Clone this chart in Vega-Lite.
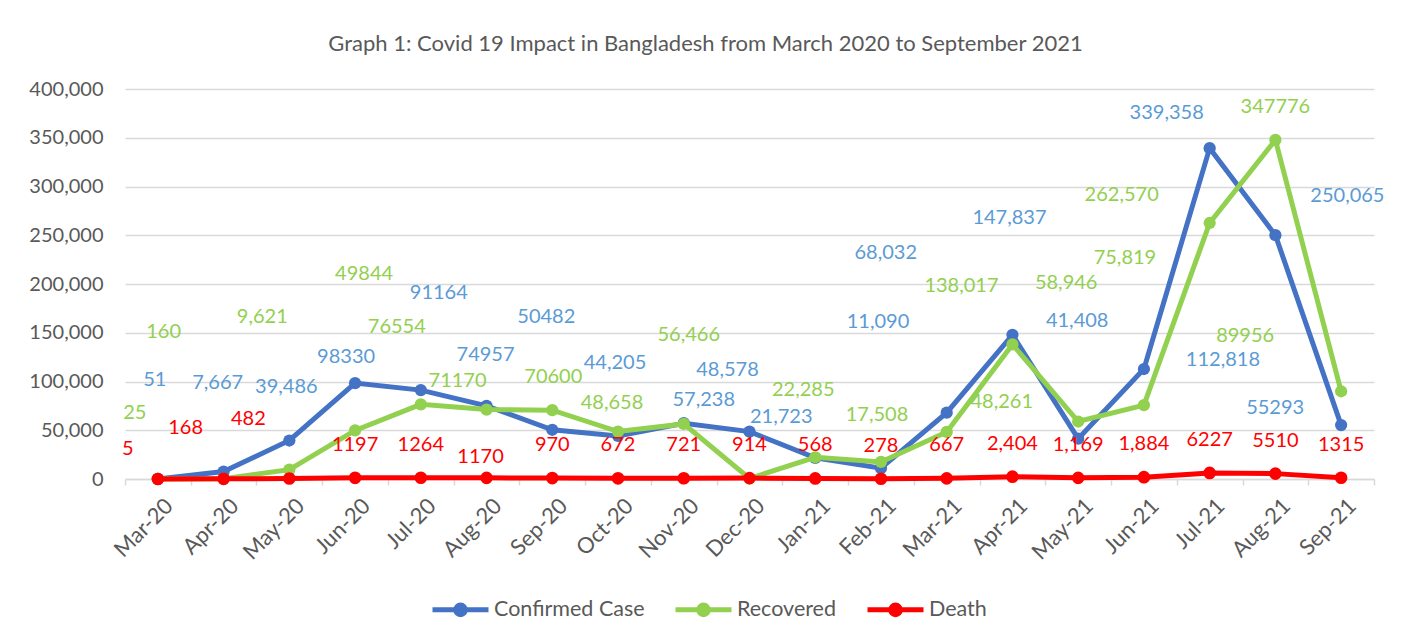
{
  "$schema": "https://vega.github.io/schema/vega-lite/v6.json",
  "width": 1249,
  "height": 390,
  "autosize": {"type": "none"},
  "padding": {"left": 125, "top": 89, "right": 33, "bottom": 162},
  "background": "white",
  "config": {"view": {"stroke": null}, "font": "Lato"},
  "title": {
    "text": "Graph 1: Covid 19 Impact in Bangladesh from March 2020 to September 2021",
    "font": "Lato", "fontSize": 22, "fontWeight": "normal", "color": "#595959",
    "anchor": "middle", "dx": -44, "offset": 23
  },
  "data": {"values": [
    {"m":"Mar-20","s":"Confirmed Case","v":51,"t":"51"},
    {"m":"Apr-20","s":"Confirmed Case","v":7667,"t":"7,667"},
    {"m":"May-20","s":"Confirmed Case","v":39486,"t":"39,486"},
    {"m":"Jun-20","s":"Confirmed Case","v":98330,"t":"98330"},
    {"m":"Jul-20","s":"Confirmed Case","v":91164,"t":"91164"},
    {"m":"Aug-20","s":"Confirmed Case","v":74957,"t":"74957"},
    {"m":"Sep-20","s":"Confirmed Case","v":50482,"t":"50482"},
    {"m":"Oct-20","s":"Confirmed Case","v":44205,"t":"44,205"},
    {"m":"Nov-20","s":"Confirmed Case","v":57238,"t":"57,238"},
    {"m":"Dec-20","s":"Confirmed Case","v":48578,"t":"48,578"},
    {"m":"Jan-21","s":"Confirmed Case","v":21723,"t":"21,723"},
    {"m":"Feb-21","s":"Confirmed Case","v":11090,"t":"11,090"},
    {"m":"Mar-21","s":"Confirmed Case","v":68032,"t":"68,032"},
    {"m":"Apr-21","s":"Confirmed Case","v":147837,"t":"147,837"},
    {"m":"May-21","s":"Confirmed Case","v":41408,"t":"41,408"},
    {"m":"Jun-21","s":"Confirmed Case","v":112818,"t":"112,818"},
    {"m":"Jul-21","s":"Confirmed Case","v":339358,"t":"339,358"},
    {"m":"Aug-21","s":"Confirmed Case","v":250065,"t":"250,065"},
    {"m":"Sep-21","s":"Confirmed Case","v":55293,"t":"55293"},
    {"m":"Mar-20","s":"Recovered","v":25,"t":"25"},
    {"m":"Apr-20","s":"Recovered","v":160,"t":"160"},
    {"m":"May-20","s":"Recovered","v":9621,"t":"9,621"},
    {"m":"Jun-20","s":"Recovered","v":49844,"t":"49844"},
    {"m":"Jul-20","s":"Recovered","v":76554,"t":"76554"},
    {"m":"Aug-20","s":"Recovered","v":71170,"t":"71170"},
    {"m":"Sep-20","s":"Recovered","v":70600,"t":"70600"},
    {"m":"Oct-20","s":"Recovered","v":48658,"t":"48,658"},
    {"m":"Nov-20","s":"Recovered","v":56466,"t":"56,466"},
    {"m":"Dec-20","s":"Recovered","v":500,"t":""},
    {"m":"Jan-21","s":"Recovered","v":22285,"t":"22,285"},
    {"m":"Feb-21","s":"Recovered","v":17508,"t":"17,508"},
    {"m":"Mar-21","s":"Recovered","v":48261,"t":"48,261"},
    {"m":"Apr-21","s":"Recovered","v":138017,"t":"138,017"},
    {"m":"May-21","s":"Recovered","v":58946,"t":"58,946"},
    {"m":"Jun-21","s":"Recovered","v":75819,"t":"75,819"},
    {"m":"Jul-21","s":"Recovered","v":262570,"t":"262,570"},
    {"m":"Aug-21","s":"Recovered","v":347776,"t":"347776"},
    {"m":"Sep-21","s":"Recovered","v":89956,"t":"89956"},
    {"m":"Mar-20","s":"Death","v":5,"t":"5"},
    {"m":"Apr-20","s":"Death","v":168,"t":"168"},
    {"m":"May-20","s":"Death","v":482,"t":"482"},
    {"m":"Jun-20","s":"Death","v":1197,"t":"1197"},
    {"m":"Jul-20","s":"Death","v":1264,"t":"1264"},
    {"m":"Aug-20","s":"Death","v":1170,"t":"1170"},
    {"m":"Sep-20","s":"Death","v":970,"t":"970"},
    {"m":"Oct-20","s":"Death","v":672,"t":"672"},
    {"m":"Nov-20","s":"Death","v":721,"t":"721"},
    {"m":"Dec-20","s":"Death","v":914,"t":"914"},
    {"m":"Jan-21","s":"Death","v":568,"t":"568"},
    {"m":"Feb-21","s":"Death","v":278,"t":"278"},
    {"m":"Mar-21","s":"Death","v":667,"t":"667"},
    {"m":"Apr-21","s":"Death","v":2404,"t":"2,404"},
    {"m":"May-21","s":"Death","v":1169,"t":"1,169"},
    {"m":"Jun-21","s":"Death","v":1884,"t":"1,884"},
    {"m":"Jul-21","s":"Death","v":6227,"t":"6227"},
    {"m":"Aug-21","s":"Death","v":5510,"t":"5510"},
    {"m":"Sep-21","s":"Death","v":1315,"t":"1315"}
  ]},
  "encoding": {
    "x": {
      "field": "m", "type": "ordinal", "title": null,
      "scale": {"type": "band", "paddingInner": 0, "paddingOuter": 0,
        "domain": ["Mar-20","Apr-20","May-20","Jun-20","Jul-20","Aug-20","Sep-20","Oct-20","Nov-20","Dec-20","Jan-21","Feb-21","Mar-21","Apr-21","May-21","Jun-21","Jul-21","Aug-21","Sep-21"]},
      "axis": {
        "labelAngle": -45, "labelAlign": "right", "labelBaseline": "middle",
        "labelFont": "Lato", "labelFontSize": 22, "labelColor": "#595959",
        "labelPadding": 17, "labelOffset": 11,
        "domainColor": "#D9D9D9", "domainWidth": 1.5,
        "tickColor": "#D9D9D9", "tickSize": 6, "tickWidth": 1.5, "tickBand": "extent",
        "grid": false
      }
    },
    "y": {
      "field": "v", "type": "quantitative", "title": null,
      "scale": {"domain": [0, 400000], "nice": false},
      "axis": {
        "values": [0,50000,100000,150000,200000,250000,300000,350000,400000],
        "format": ",d", "labelFont": "Lato", "labelFontSize": 20, "labelColor": "#595959",
        "labelPadding": 22, "domain": false, "ticks": false,
        "gridColor": "#D9D9D9", "gridWidth": 1.5
      }
    }
  },
  "layer": [
    {
      "transform": [{"filter": "datum.s === 'Confirmed Case'"}],
      "mark": {"type": "line", "strokeWidth": 5},
      "encoding": {"color": {"field": "s", "type": "nominal",
        "scale": {"domain": ["Confirmed Case","Recovered","Death"], "range": ["#4472C4","#92D050","#FF0000"]},
        "legend": {
          "orient": "none", "legendX": 305, "legendY": 490, "direction": "horizontal", "title": null,
          "symbolType": "M-1,0L1,0M0.17,0A0.17,0.17,0,1,1,-0.17,0A0.17,0.17,0,1,1,0.17,0Z",
          "symbolSize": 3136, "symbolStrokeWidth": 5,
          "labelFont": "Lato", "labelFontSize": 21.5, "labelColor": "#595959",
          "columnPadding": 20, "labelOffset": 3,
          "encode": {"symbols": {"update": {"fill": {"scale": "color", "field": "value"}, "stroke": {"scale": "color", "field": "value"}}}}
        }}}
    },
    {
      "transform": [{"filter": "datum.s === 'Confirmed Case'"}],
      "mark": {"type": "point", "shape": "circle", "filled": true, "size": 150, "opacity": 1},
      "encoding": {"color": {"field": "s", "type": "nominal"}}
    },
    {
      "transform": [{"filter": "datum.s === 'Recovered'"}],
      "mark": {"type": "line", "strokeWidth": 5},
      "encoding": {"color": {"field": "s", "type": "nominal"}}
    },
    {
      "transform": [{"filter": "datum.s === 'Recovered'"}],
      "mark": {"type": "point", "shape": "circle", "filled": true, "size": 150, "opacity": 1},
      "encoding": {"color": {"field": "s", "type": "nominal"}}
    },
    {
      "transform": [{"filter": "datum.s === 'Death'"}],
      "mark": {"type": "line", "strokeWidth": 5},
      "encoding": {"color": {"field": "s", "type": "nominal"}}
    },
    {
      "transform": [{"filter": "datum.s === 'Death'"}],
      "mark": {"type": "point", "shape": "circle", "filled": true, "size": 160, "opacity": 1},
      "encoding": {"color": {"field": "s", "type": "nominal"}}
    },
    {
      "transform": [{"filter": "datum.s === 'Confirmed Case'"}],
      "mark": {"type": "text", "font": "Lato", "fontSize": 20, "color": "#5B9BD5", "baseline": "middle", "align": "center",
        "dx": {"expr": "({'Mar-20':-3,'Apr-20':-6,'May-20':-3,'Jun-20':-9,'Jul-20':18,'Aug-20':-1,'Sep-20':-6,'Oct-20':-3,'Nov-20':20,'Dec-20':-22,'Jan-21':-34,'Feb-21':-3,'Mar-21':-61,'Apr-21':-3,'May-21':-1,'Jun-21':79,'Jul-21':-43,'Aug-21':72,'Sep-21':-66})[datum.m]"},
        "dy": {"expr": "({'Mar-20':-99,'Apr-20':-89,'May-20':-54,'Jun-20':-26,'Jul-20':-97,'Aug-20':-51,'Sep-20':-113,'Oct-20':-73,'Nov-20':-23,'Dec-20':-62,'Jan-21':-41,'Feb-21':-146,'Mar-21':-160,'Apr-21':-117,'May-21':-118,'Jun-21':-9,'Jul-21':-35,'Aug-21':-39,'Sep-21':-17})[datum.m]"}
      },
      "encoding": {"text": {"field": "t"}}
    },
    {
      "transform": [{"filter": "datum.s === 'Recovered'"}],
      "mark": {"type": "text", "font": "Lato", "fontSize": 20, "color": "#92D050", "baseline": "middle", "align": "center",
        "dx": {"expr": "({'Mar-20':-23,'Apr-20':-60,'May-20':-27,'Jun-20':9,'Jul-20':-24,'Aug-20':-29,'Sep-20':1,'Oct-20':-6,'Nov-20':5,'Dec-20':0,'Jan-21':-12,'Feb-21':-4,'Mar-21':55,'Apr-21':-51,'May-21':-12,'Jun-21':-19,'Jul-21':-88,'Aug-21':0,'Sep-21':-96})[datum.m]"},
        "dy": {"expr": "({'Mar-20':-66,'Apr-20':-147,'May-20':-153,'Jun-20':-156,'Jul-20':-77,'Aug-20':-29,'Sep-20':-33,'Oct-20':-29,'Nov-20':-89,'Dec-20':0,'Jan-21':-67,'Feb-21':-47,'Mar-21':-30,'Apr-21':-58,'May-21':-139,'Jun-21':-147,'Jul-21':-28,'Aug-21':-33,'Sep-21':-55})[datum.m]"}
      },
      "encoding": {"text": {"field": "t"}}
    },
    {
      "transform": [{"filter": "datum.s === 'Death'"}],
      "mark": {"type": "text", "font": "Lato", "fontSize": 20, "color": "#FF0000", "baseline": "middle", "align": "center",
        "dx": {"expr": "({'Mar-20':-30,'Apr-20':-38,'May-20':-41,'Aug-20':-6})[datum.m] || 0"},
        "dy": {"expr": "({'Mar-20':-30,'Apr-20':-51,'May-20':-60,'Aug-20':-21})[datum.m] || -33"}
      },
      "encoding": {"text": {"field": "t"}}
    }
  ]
}
